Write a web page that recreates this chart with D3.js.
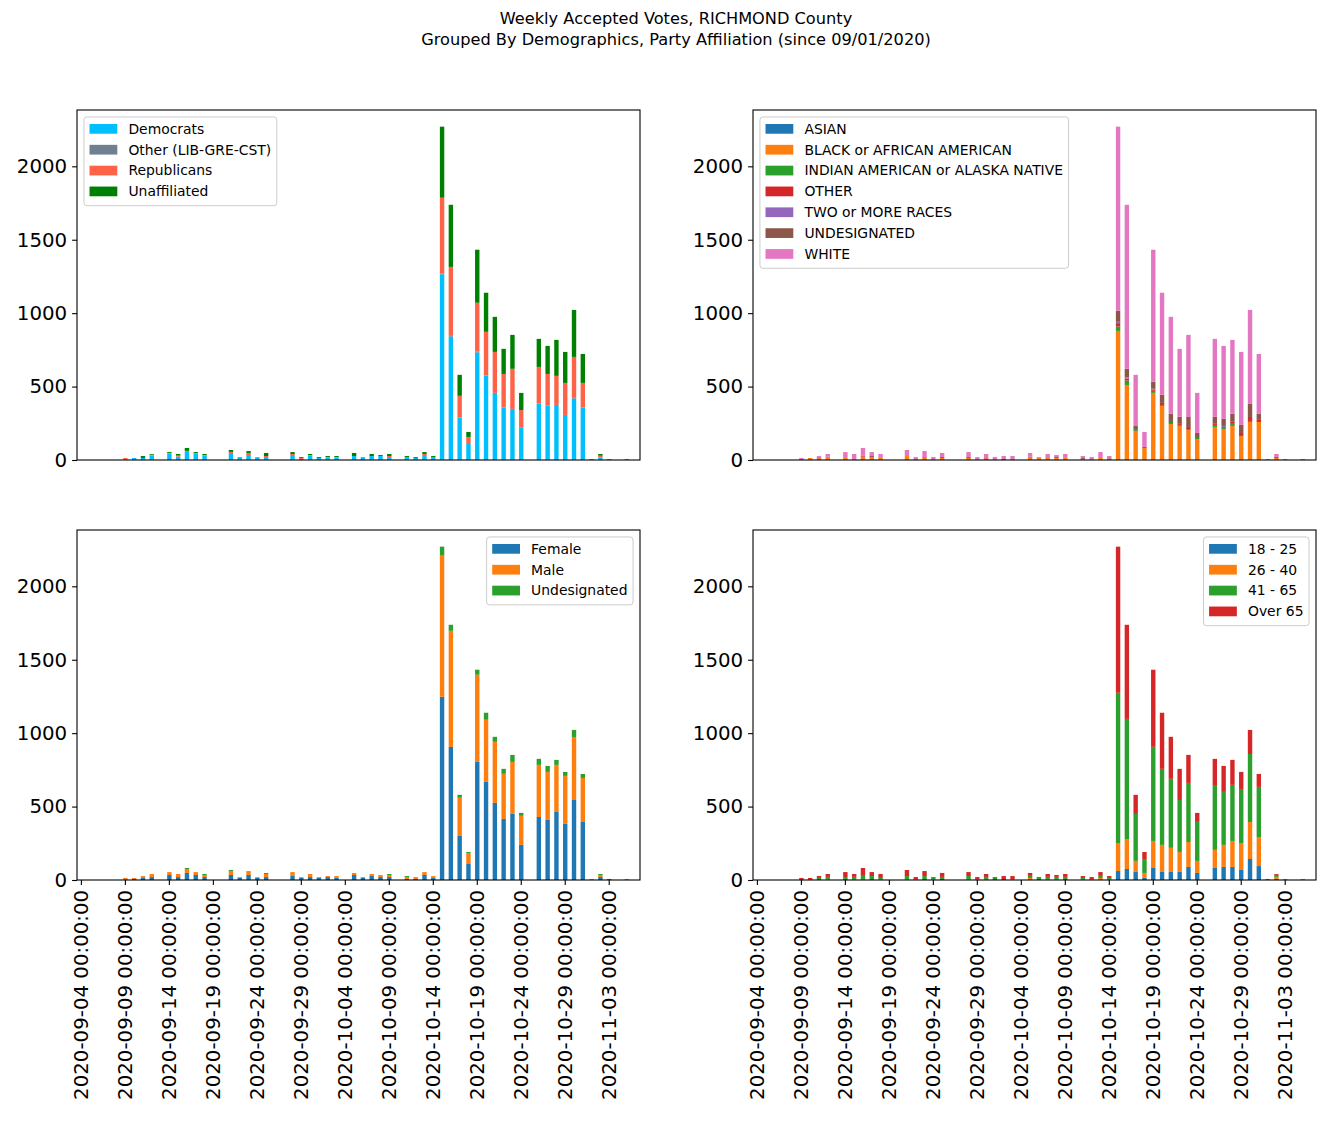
<!DOCTYPE html>
<html>
<head>
<meta charset="utf-8">
<script src="https://cdn.jsdelivr.net/npm/d3@7"></script>
<style>
  html, body { margin: 0; padding: 0; background: #fff; }
  svg { display: block; font-family: "DejaVu Sans", sans-serif; }
</style>
</head>
<body>
<svg id="chart" width="1326" height="1137"></svg>
<script>
// ---------- DATA ----------
const dates = [
  "2020-09-04","2020-09-05","2020-09-06","2020-09-07","2020-09-08","2020-09-09","2020-09-10","2020-09-11","2020-09-12","2020-09-13",
  "2020-09-14","2020-09-15","2020-09-16","2020-09-17","2020-09-18","2020-09-19","2020-09-20","2020-09-21","2020-09-22","2020-09-23",
  "2020-09-24","2020-09-25","2020-09-26","2020-09-27","2020-09-28","2020-09-29","2020-09-30","2020-10-01","2020-10-02","2020-10-03",
  "2020-10-04","2020-10-05","2020-10-06","2020-10-07","2020-10-08","2020-10-09","2020-10-10","2020-10-11","2020-10-12","2020-10-13",
  "2020-10-14","2020-10-15","2020-10-16","2020-10-17","2020-10-18","2020-10-19","2020-10-20","2020-10-21","2020-10-22","2020-10-23",
  "2020-10-24","2020-10-25","2020-10-26","2020-10-27","2020-10-28","2020-10-29","2020-10-30","2020-10-31","2020-11-01","2020-11-02",
  "2020-11-03","2020-11-04","2020-11-05","2020-11-06"
];
const tickLabels = [
  "2020-09-04 00:00:00","2020-09-09 00:00:00","2020-09-14 00:00:00","2020-09-19 00:00:00","2020-09-24 00:00:00",
  "2020-09-29 00:00:00","2020-10-04 00:00:00","2020-10-09 00:00:00","2020-10-14 00:00:00","2020-10-19 00:00:00",
  "2020-10-24 00:00:00","2020-10-29 00:00:00","2020-11-03 00:00:00"
];
const yTicks = [0, 500, 1000, 1500, 2000];

// Party
const democrats = [0,0,0,0,0,4,14,14,30,0,
  43,23,55,45,32,0,0,48,20,34,
  14,20,0,0,34,7,32,14,16,16,
  0,27,14,27,27,20,0,14,14,27,
  14,1265,840,289,116,732,575,457,357,348,
  220,0,384,370,375,307,418,357,7,18,
  7,0,7,0];
const otherParty = [0,0,0,0,0,0,0,0,0,0,
  0,0,0,0,0,0,0,0,0,0,
  0,0,0,0,0,0,0,0,0,0,
  0,0,0,0,0,0,0,0,0,0,
  0,5,5,0,0,7,0,0,0,0,
  0,0,0,0,0,0,5,0,0,0,
  0,0,0,0];
const republicans = [0,0,0,0,0,10,0,0,6,0,
  5,7,7,2,2,0,0,7,0,14,
  6,7,0,0,7,7,2,0,4,4,
  0,0,6,0,0,7,0,4,0,14,
  4,516,470,148,41,332,298,279,229,273,
  120,0,250,216,198,218,279,168,0,11,
  0,0,0,0];
const unaffiliated = [0,0,0,0,0,0,0,13,5,0,
  6,11,20,7,7,0,0,13,0,13,
  0,21,0,0,13,6,7,6,7,7,
  0,21,0,14,7,14,0,9,6,13,
  9,484,423,143,34,361,266,239,171,231,
  117,0,191,191,245,211,320,197,0,12,
  0,0,0,0];

// Race
const asian = [0,0,0,0,0,0,0,0,0,0,
  0,0,0,0,0,0,0,0,0,0,
  0,0,0,0,0,0,0,0,0,0,
  0,0,0,0,0,0,0,0,0,0,
  0,5,5,0,0,5,4,4,0,4,
  0,0,0,4,4,0,4,4,0,0,
  0,0,0,0];
const black = [0,0,0,0,0,0,14,9,18,0,
  14,4,23,20,14,0,0,27,7,16,
  6,14,0,0,14,6,9,6,0,7,
  0,16,13,20,13,14,0,6,6,20,
  9,874,506,198,82,452,364,241,232,200,
  143,0,225,207,228,164,255,255,0,14,
  0,0,7,0];
const indianAm = [0,0,0,0,0,0,0,0,0,0,
  0,0,0,0,0,0,0,0,0,0,
  0,0,0,0,0,0,0,0,0,0,
  0,7,0,0,0,0,0,0,0,0,
  0,30,30,7,0,14,7,14,7,7,
  7,0,14,14,14,0,7,0,0,0,
  0,0,0,0];
const otherRace = [0,0,0,0,0,0,0,4,0,0,
  0,0,5,0,0,0,0,0,0,4,
  0,0,0,0,0,0,4,0,0,0,
  0,0,0,0,0,0,0,0,0,0,
  0,23,14,0,0,7,14,7,7,14,
  0,0,7,0,14,20,27,14,0,0,
  0,0,0,0];
const twoOrMore = [0,0,0,0,0,0,0,0,0,0,
  0,0,0,0,0,0,0,0,0,0,
  0,0,0,0,0,0,0,0,0,0,
  0,0,0,0,0,0,0,0,0,0,
  0,9,7,0,0,7,0,0,0,0,
  0,0,0,7,0,0,0,0,0,0,
  0,0,0,0];
const undesignatedRace = [0,0,0,0,0,5,0,0,5,0,
  0,3,0,7,0,0,0,0,0,0,
  0,7,0,0,7,0,0,0,7,0,
  0,0,0,0,7,0,0,7,0,0,
  4,75,59,27,7,48,55,48,48,68,
  34,0,48,48,55,55,89,41,0,7,
  0,0,0,0];
const white = [0,0,0,0,0,9,0,14,18,0,
  40,34,54,27,27,0,0,41,13,41,
  14,27,0,0,33,14,28,14,20,20,
  0,25,7,21,14,27,0,14,14,34,
  14,1254,1117,348,102,899,695,661,463,559,
  273,0,531,497,503,497,640,408,7,20,
  7,0,0,0];

// Gender
const female = [0,0,0,0,0,4,7,14,20,0,
  34,20,48,34,20,0,0,34,14,34,
  14,20,0,0,27,14,20,14,20,14,
  0,34,14,27,20,20,0,7,7,34,
  14,1248,906,300,109,804,668,525,416,450,
  239,0,429,409,463,382,545,395,0,20,
  7,0,0,0];
const male = [0,0,0,0,0,10,7,13,21,0,
  20,21,27,20,14,0,0,27,6,27,
  6,21,0,0,27,6,21,3,7,13,
  0,14,6,14,14,14,0,13,13,20,
  13,961,791,260,75,594,423,416,307,354,
  198,0,355,327,321,327,429,300,7,14,
  0,0,7,0];
const undesignatedGender = [0,0,0,0,0,0,0,0,0,0,
  0,0,7,0,7,0,0,7,0,0,
  0,7,0,0,0,0,0,3,0,0,
  0,0,0,0,0,7,0,7,0,0,
  0,61,41,20,7,34,48,34,34,48,
  20,0,41,41,34,27,48,27,0,7,
  0,0,0,0];

// Age
const age18_25 = [0,0,0,0,0,0,0,0,0,0,
  0,0,0,0,0,0,0,0,0,7,
  0,7,0,0,0,0,0,0,0,0,
  0,0,7,0,0,7,0,0,0,0,
  0,61,75,55,14,82,55,55,55,89,
  48,0,82,89,89,68,143,95,0,7,
  0,0,0,0];
const age26_40 = [0,0,0,0,0,0,0,0,7,0,
  0,7,7,0,7,0,0,7,6,0,
  7,0,0,0,7,6,7,0,0,7,
  0,14,0,7,7,0,0,7,6,14,
  7,191,204,75,34,184,184,164,136,170,
  82,0,123,150,177,184,252,198,0,14,
  7,0,7,0];
const age41_65 = [0,0,0,0,0,7,4,14,14,0,
  20,14,27,27,7,0,0,20,0,20,
  7,14,0,0,20,0,14,14,0,0,
  0,14,7,14,14,14,0,7,0,14,
  7,1023,818,320,95,641,518,470,354,402,
  266,0,436,361,382,368,463,341,7,14,
  0,0,0,0];
const ageOver65 = [0,0,0,0,0,7,10,13,20,0,
  34,20,48,27,27,0,0,41,14,34,
  6,27,0,0,27,14,20,6,27,20,
  0,20,6,20,13,20,0,13,14,26,
  13,995,641,130,48,525,382,286,212,191,
  61,0,184,177,170,116,164,88,0,6,
  0,0,0,0];

const titleLines = ["Weekly Accepted Votes, RICHMOND County",
                    "Grouped By Demographics, Party Affiliation (since 09/01/2020)"];

// ---------- PANELS ----------
const panels = [
  { x: 77,  y: 110, w: 563, h: 350, legend: "upper left",  xlabels: false,
    series: [["Democrats", democrats, "#00bfff"], ["Other (LIB-GRE-CST)", otherParty, "#708090"],
             ["Republicans", republicans, "#ff6347"], ["Unaffiliated", unaffiliated, "#008000"]] },
  { x: 753, y: 110, w: 563, h: 350, legend: "upper left",  xlabels: false,
    series: [["ASIAN", asian, "#1f77b4"], ["BLACK or AFRICAN AMERICAN", black, "#ff7f0e"],
             ["INDIAN AMERICAN or ALASKA NATIVE", indianAm, "#2ca02c"], ["OTHER", otherRace, "#d62728"],
             ["TWO or MORE RACES", twoOrMore, "#9467bd"], ["UNDESIGNATED", undesignatedRace, "#8c564b"],
             ["WHITE", white, "#e377c2"]] },
  { x: 77,  y: 530, w: 563, h: 350, legend: "upper right", xlabels: true,
    series: [["Female", female, "#1f77b4"], ["Male", male, "#ff7f0e"], ["Undesignated", undesignatedGender, "#2ca02c"]] },
  { x: 753, y: 530, w: 563, h: 350, legend: "upper right", xlabels: true,
    series: [["18 - 25", age18_25, "#1f77b4"], ["26 - 40", age26_40, "#ff7f0e"],
             ["41 - 65", age41_65, "#2ca02c"], ["Over 65", ageOver65, "#d62728"]] }
];

const svg = d3.select("#chart");
const tickFont = 19.8;
const legendFont = 13.9;

// Title
svg.append("g").selectAll("text").data(titleLines).join("text")
  .attr("x", 676).attr("y", (d, i) => 24 + i * 21)
  .attr("text-anchor", "middle").attr("font-size", 16.2).attr("fill", "#000")
  .text(d => d);

panels.forEach(p => {
  const g = svg.append("g").attr("transform", `translate(${p.x},${p.y})`);
  const keys = p.series.map(s => s[0]);
  const rows = dates.map((d, i) => {
    const r = { date: d };
    p.series.forEach(s => { r[s[0]] = s[1][i]; });
    return r;
  });
  const stacked = d3.stack().keys(keys)(rows);
  const maxTotal = d3.max(rows, r => d3.sum(keys, k => r[k]));

  const x = d3.scaleBand().domain(dates).range([0, p.w]).paddingInner(0.5).paddingOuter(0.25);
  const y = d3.scaleLinear().domain([0, maxTotal * 1.05]).range([p.h, 0]);
  const color = d3.scaleOrdinal().domain(keys).range(p.series.map(s => s[2]));

  // bars
  g.append("g").selectAll("g").data(stacked).join("g")
    .attr("fill", d => color(d.key))
    .selectAll("rect").data(d => d).join("rect")
    .attr("x", d => x(d.data.date))
    .attr("width", x.bandwidth())
    .attr("y", d => y(d[1]))
    .attr("height", d => Math.max(0, y(d[0]) - y(d[1])));

  // y axis
  const yAxis = d3.axisLeft(y).tickValues(yTicks).tickSize(4.9).tickPadding(4.9).tickFormat(d3.format("d"));
  const ya = g.append("g").call(yAxis);
  ya.select(".domain").remove();
  ya.selectAll("text").attr("font-size", tickFont).attr("font-family", "DejaVu Sans").attr("fill", "#000");
  ya.selectAll("line").attr("stroke", "#000").attr("stroke-width", 1.1);

  // x axis (bottom panels only)
  if (p.xlabels) {
    const xTickDates = dates.filter((d, i) => i % 5 === 0);
    const labelMap = new Map(xTickDates.map((d, i) => [d, tickLabels[i]]));
    const xAxis = d3.axisBottom(x).tickValues(xTickDates).tickSize(4.9).tickFormat(d => labelMap.get(d));
    const xa = g.append("g").attr("transform", `translate(0,${p.h})`).call(xAxis);
    xa.select(".domain").remove();
    xa.selectAll("line").attr("stroke", "#000").attr("stroke-width", 1.1);
    xa.selectAll("text")
      .attr("font-size", tickFont).attr("font-family", "DejaVu Sans").attr("fill", "#000")
      .attr("transform", "translate(0,9.8) rotate(-90)")
      .attr("x", 0).attr("y", 0).attr("dy", "0.35em")
      .attr("text-anchor", "end");
  }

  // frame
  g.append("rect").attr("x", 0).attr("y", 0).attr("width", p.w).attr("height", p.h)
    .attr("fill", "none").attr("stroke", "#000").attr("stroke-width", 1.1);

  // legend
  const lg = g.append("g");
  const rowH = legendFont * 1.5;
  const pad = legendFont * 0.4;
  const handleW = legendFont * 2.0;
  const textGap = legendFont * 0.8;
  const items = lg.selectAll("g.item").data(p.series).join("g").attr("class", "item")
    .attr("transform", (d, i) => `translate(0,${pad + legendFont * 0.5 - 0.6 + i * rowH})`);
  items.append("rect").attr("x", pad).attr("y", -legendFont * 0.35).attr("width", handleW).attr("height", legendFont * 0.7)
    .attr("fill", d => d[2]);
  items.append("text").attr("x", pad + handleW + textGap).attr("y", 0).attr("dy", "0.35em")
    .attr("font-size", legendFont).attr("fill", "#000").text(d => d[0]);
  let maxW = 0;
  items.selectAll("text").each(function () { maxW = Math.max(maxW, this.getComputedTextLength()); });
  const boxW = pad + handleW + textGap + maxW + pad;
  const boxH = pad * 2 + p.series.length * rowH - legendFont * 0.5 + 1.2;
  lg.insert("rect", ":first-child").attr("x", 0).attr("y", 0).attr("width", boxW).attr("height", boxH)
    .attr("rx", 3).attr("fill", "#fff").attr("fill-opacity", 0.8).attr("stroke", "#cccccc").attr("stroke-width", 1);
  const off = legendFont * 0.5;
  const lx = p.legend === "upper left" ? off : p.w - off - boxW;
  lg.attr("transform", `translate(${lx},${off})`);
});
</script>
</body>
</html>
